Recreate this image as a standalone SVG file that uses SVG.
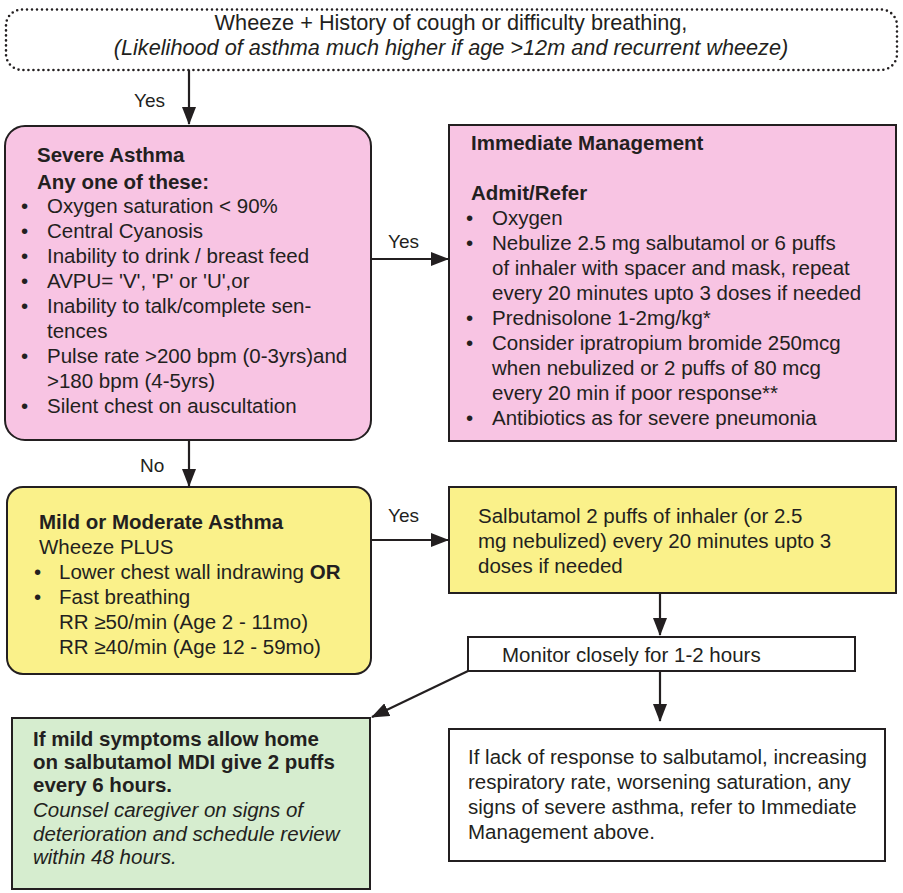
<svg xmlns="http://www.w3.org/2000/svg" width="903" height="893" viewBox="0 0 903 893">
  <defs>
    <marker id="arrow" markerUnits="userSpaceOnUse" markerWidth="18" markerHeight="14" refX="17" refY="7" orient="auto">
      <path d="M0,0 L18,7 L0,14 z" fill="#231f20"/>
    </marker>
    <style>
      text { font-family: "Liberation Sans", Arial, sans-serif; font-size: 20.5px; fill: #231f20; }
      .b { font-weight: bold; }
      .i { font-style: italic; }
      .lead { font-size: 21.7px; }
      .lbl { font-size: 19px; }
      .box { stroke: #231f20; stroke-width: 2; }
      .pink { fill: #f8c4e3; }
      .yellow { fill: #faf18a; }
      .green { fill: #d6edcf; }
      .white { fill: #ffffff; }
      .conn line { stroke: #231f20; stroke-width: 2.2; marker-end: url(#arrow); }
    </style>
  </defs>

  <rect width="903" height="893" fill="#ffffff"/>

  <!-- Entry criteria -->
  <g id="start">
    <rect x="6" y="9.5" width="891" height="60.5" rx="16" fill="#ffffff" stroke="#231f20" stroke-width="2.6" stroke-dasharray="0 5" stroke-linecap="round"/>
    <text x="451" y="30" text-anchor="middle" class="lead">Wheeze + History of cough or difficulty breathing,</text>
    <text x="451" y="55" text-anchor="middle" class="lead i">(Likelihood of asthma much higher if age &gt;12m and recurrent wheeze)</text>
  </g>

  <!-- Severe asthma criteria -->
  <g id="severe">
    <rect class="box pink" x="5" y="126" width="366" height="314" rx="20"/>
    <text x="37" y="162" class="b">Severe Asthma</text>
    <text x="37" y="189" class="b">Any one of these:</text>
    <g>
      <text x="21" y="213">•</text><text x="47" y="213">Oxygen saturation &lt; 90%</text>
      <text x="21" y="238">•</text><text x="47" y="238">Central Cyanosis</text>
      <text x="21" y="263">•</text><text x="47" y="263">Inability to drink / breast feed</text>
      <text x="21" y="288">•</text><text x="47" y="288">AVPU= 'V', 'P' or 'U',or</text>
      <text x="21" y="313">•</text><text x="47" y="313">Inability to talk/complete sen-</text>
      <text x="47" y="338">tences</text>
      <text x="21" y="363">•</text><text x="47" y="363">Pulse rate &gt;200 bpm (0-3yrs)and</text>
      <text x="47" y="388">&gt;180 bpm (4-5yrs)</text>
      <text x="21" y="413">•</text><text x="47" y="413">Silent chest on auscultation</text>
    </g>
  </g>

  <!-- Immediate management -->
  <g id="immediate">
    <rect class="box pink" x="449" y="125" width="447" height="316"/>
    <text x="471" y="150" class="b">Immediate Management</text>
    <text x="471" y="200" class="b">Admit/Refer</text>
    <text x="466" y="225">•</text><text x="492" y="225">Oxygen</text>
    <text x="466" y="250">•</text><text x="492" y="250">Nebulize 2.5 mg salbutamol or 6 puffs</text>
    <text x="492" y="275">of inhaler with spacer and mask, repeat</text>
    <text x="492" y="300">every 20 minutes upto 3 doses if needed</text>
    <text x="466" y="325">•</text><text x="492" y="325">Prednisolone 1-2mg/kg*</text>
    <text x="466" y="350">•</text><text x="492" y="350">Consider ipratropium bromide 250mcg</text>
    <text x="492" y="375">when nebulized or 2 puffs of 80 mcg</text>
    <text x="492" y="400">every 20 min if poor response**</text>
    <text x="466" y="425">•</text><text x="492" y="425">Antibiotics as for severe pneumonia</text>
  </g>

  <!-- Mild or moderate asthma -->
  <g id="mild">
    <rect class="box yellow" x="7" y="487" width="364" height="187" rx="16"/>
    <text x="39" y="529" class="b">Mild or Moderate Asthma</text>
    <text x="39" y="554">Wheeze PLUS</text>
    <text x="34" y="579">•</text><text x="59" y="579">Lower chest wall indrawing <tspan class="b">OR</tspan></text>
    <text x="34" y="604">•</text><text x="59" y="604">Fast breathing</text>
    <text x="59" y="629">RR ≥50/min (Age 2 - 11mo)</text>
    <text x="59" y="654">RR ≥40/min (Age 12 - 59mo)</text>
  </g>

  <!-- Salbutamol treatment -->
  <g id="salbutamol">
    <rect class="box yellow" x="449" y="487" width="447" height="106"/>
    <text x="478" y="523">Salbutamol 2 puffs of inhaler (or 2.5</text>
    <text x="478" y="548">mg nebulized) every 20 minutes upto 3</text>
    <text x="478" y="573">doses if needed</text>
  </g>

  <!-- Monitoring -->
  <g id="monitor">
    <rect class="box white" x="468" y="637" width="387" height="34"/>
    <text x="502" y="662">Monitor closely for 1-2 hours</text>
  </g>

  <!-- Discharge advice -->
  <g id="home">
    <rect class="box green" x="12" y="718" width="358" height="171"/>
    <text x="33" y="746" class="b">If mild symptoms allow home</text>
    <text x="33" y="769" class="b">on salbutamol MDI give 2 puffs</text>
    <text x="33" y="792" class="b">every 6 hours.</text>
    <text x="33" y="817" class="i">Counsel caregiver on signs of</text>
    <text x="33" y="841" class="i">deterioration and schedule review</text>
    <text x="33" y="864" class="i">within 48 hours.</text>
  </g>

  <!-- Escalation -->
  <g id="escalate">
    <rect class="box white" x="449" y="729" width="436" height="132"/>
    <text x="468" y="764">If lack of response to salbutamol, increasing</text>
    <text x="468" y="789">respiratory rate, worsening saturation, any</text>
    <text x="468" y="814">signs of severe asthma, refer to Immediate</text>
    <text x="468" y="839">Management above.</text>
  </g>

  <!-- Connectors -->
  <g id="connectors" class="conn">
    <line x1="189" y1="70" x2="189" y2="124"/>
    <line x1="371" y1="259" x2="448" y2="259"/>
    <line x1="189" y1="440" x2="189" y2="486"/>
    <line x1="371" y1="540" x2="448" y2="540"/>
    <line x1="660" y1="593" x2="660" y2="635"/>
    <line x1="468" y1="671" x2="372" y2="717"/>
    <line x1="660" y1="671" x2="660" y2="721"/>
    <text class="lbl" x="134" y="107">Yes</text>
    <text class="lbl" x="388" y="248">Yes</text>
    <text class="lbl" x="140" y="472">No</text>
    <text class="lbl" x="388" y="522">Yes</text>
  </g>
</svg>
